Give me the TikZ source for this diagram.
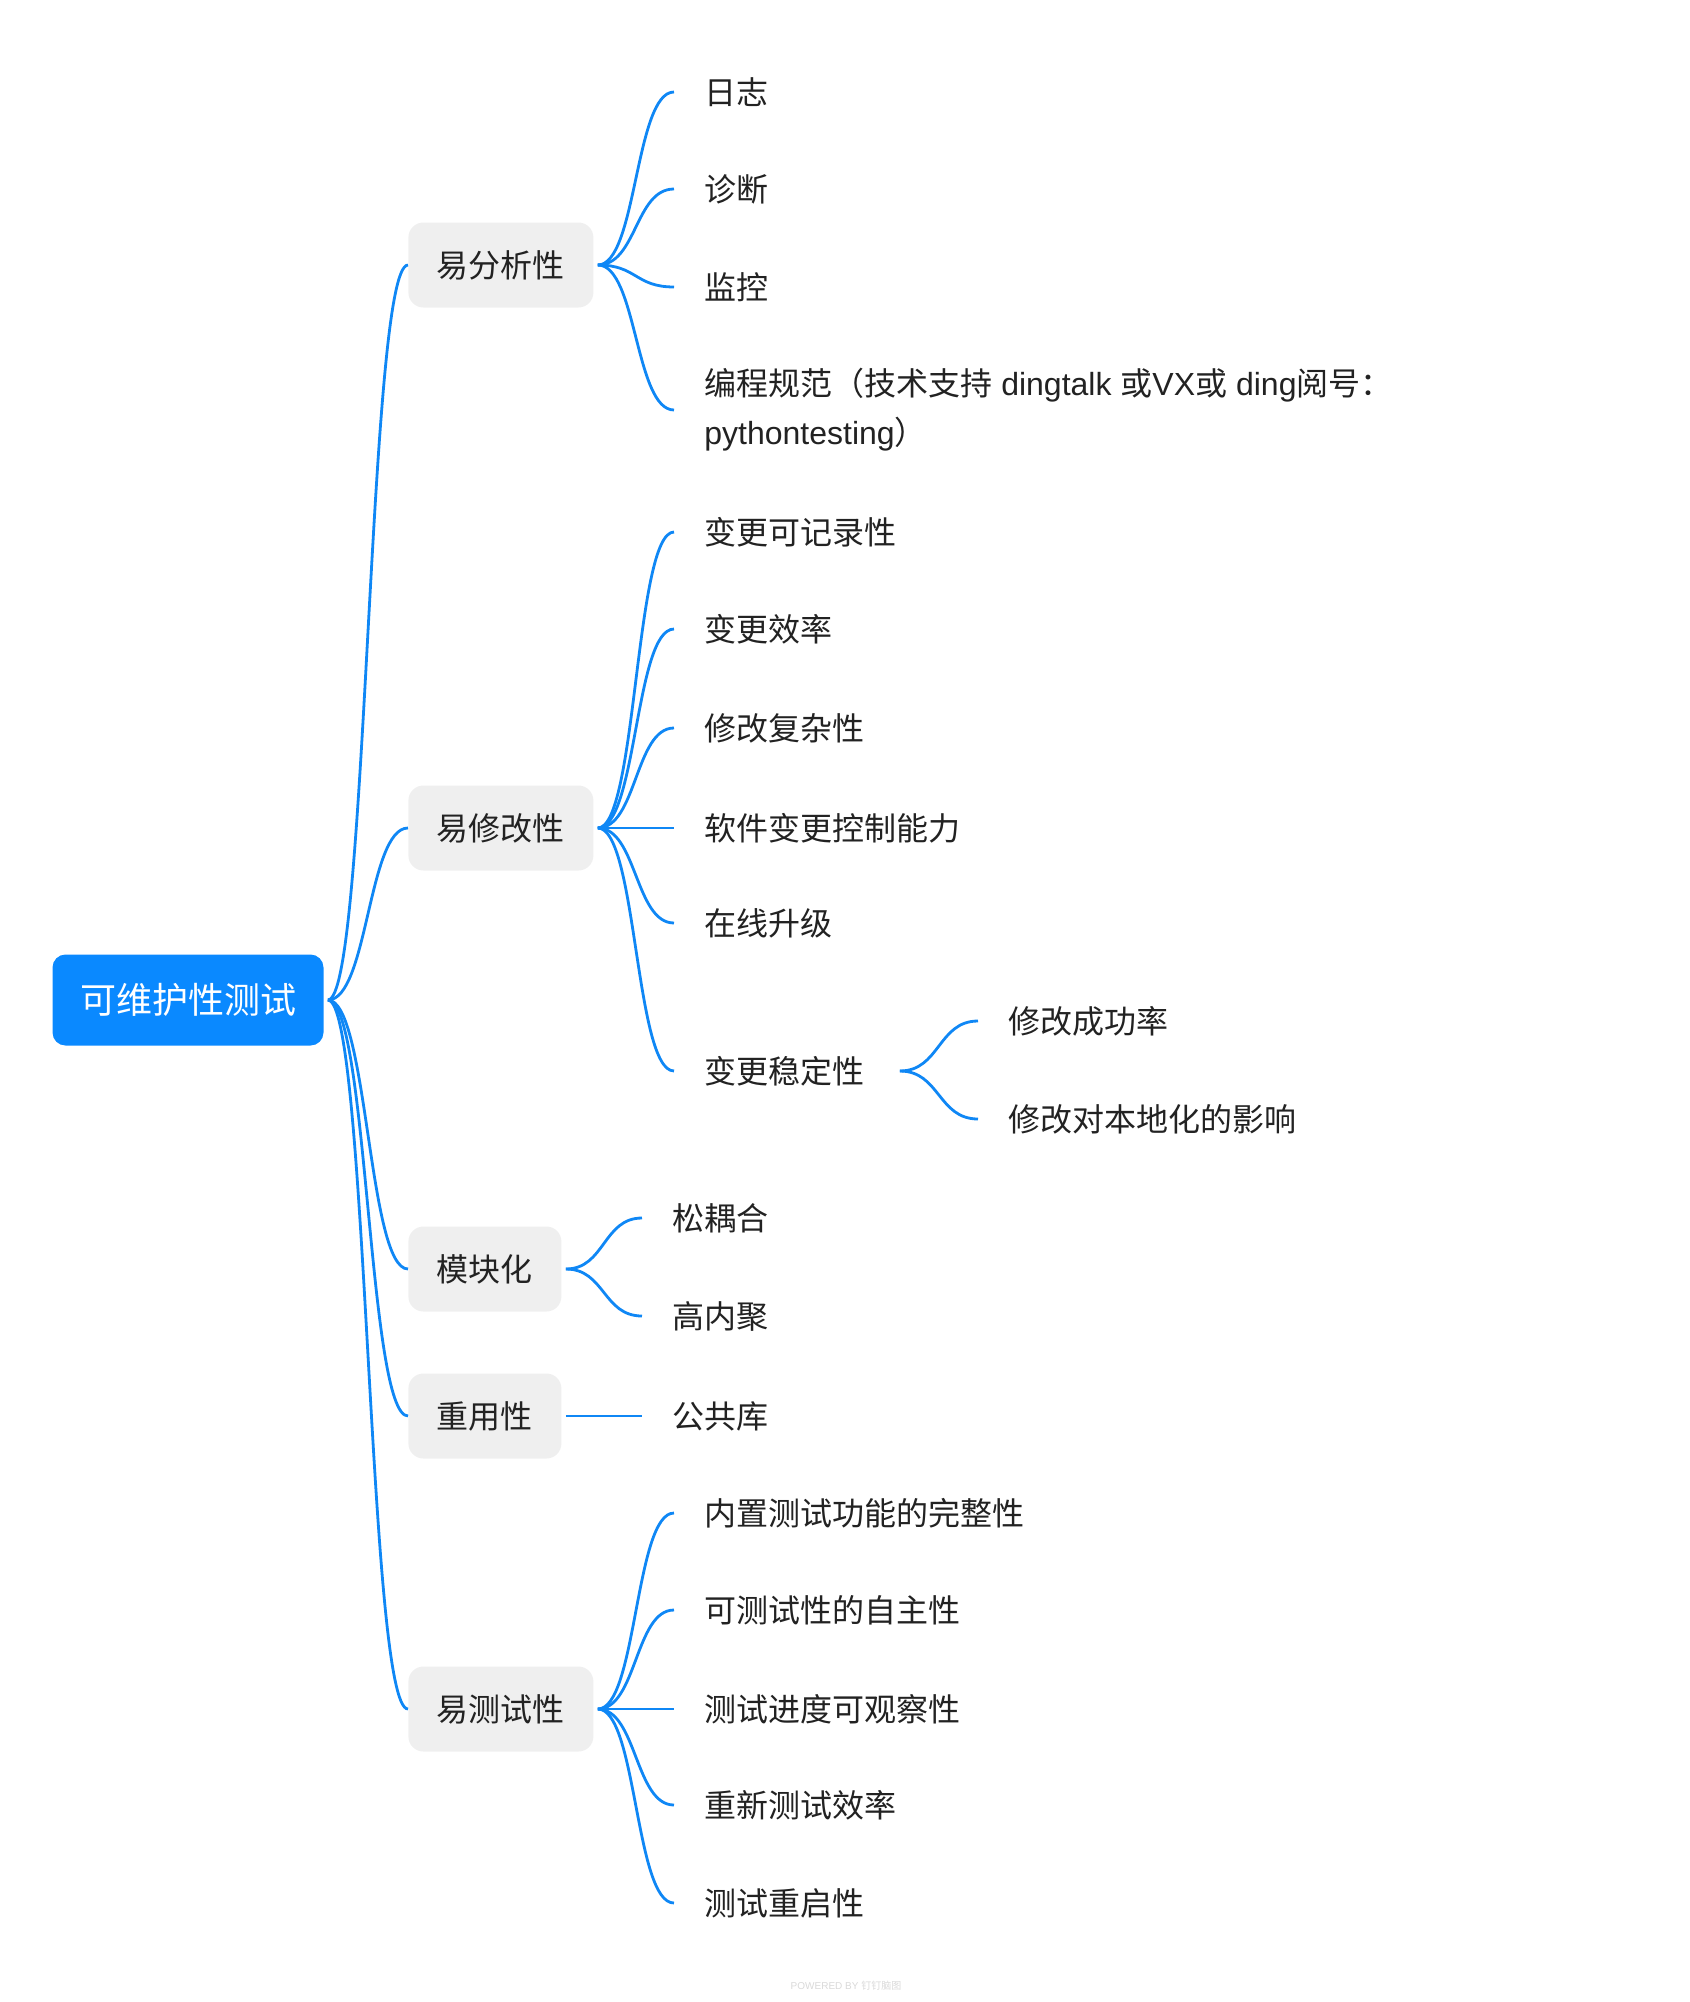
\documentclass[tikz,border=0pt]{standalone}
\usepackage{fontspec}
\setmainfont{Liberation Sans}
\newfontfamily\cjk{Noto Sans CJK SC}
\definecolor{rootblue}{HTML}{0A89FF}
\definecolor{linkblue}{HTML}{0F87F5}
\definecolor{boxgray}{HTML}{EFEFEF}
\definecolor{textgray}{HTML}{222222}

\begin{document}
\begin{tikzpicture}[
    x=0.5pt,
    y=-0.5pt,
    rootbox/.style={fill=rootblue, text=white, rounded corners=6.5pt,
      inner xsep=13.75pt, minimum height=45.5pt, font=\cjk\fontsize{18}{20}\selectfont},
    branchbox/.style={fill=boxgray, text=textgray, rounded corners=7.5pt, anchor=west,
      inner xsep=14.25pt, minimum height=42.5pt, font=\cjk\fontsize{16}{18}\selectfont},
    leaf/.style={text=textgray, anchor=west, inner xsep=15pt, inner ysep=0pt,
      font=\cjk\fontsize{16}{18}\selectfont},
    link/.style={draw=linkblue, line width=1.4pt,
      to path={.. controls +(#1,0) and +(-#1,0) .. (\tikztotarget)}},
    link/.default=39
]
\useasboundingbox (0,0) rectangle (1690,2002);

\node[rootbox] (root) at (188,1000) {可维护性测试};
\coordinate (rootout) at ([xshift=2pt]root.east);

\node[branchbox] (b1) at (408,265) {易分析性};
\node[branchbox] (b2) at (408,828) {易修改性};
\node[branchbox] (b3) at (408,1269) {模块化};
\node[branchbox] (b4) at (408,1416) {重用性};
\node[branchbox] (b5) at (408,1709) {易测试性};

\foreach \b in {b1,b2,b3,b4,b5}{
  \draw[link=40] (rootout) to (\b.west);
  \coordinate (\b out) at ([xshift=2pt]\b.east);
}

\foreach \name/\ypos/\txt in {l11/92/日志, l12/189/诊断, l13/287/监控}{
  \node[leaf] (\name) at (674,\ypos) {\txt};
  \draw[link] (b1out) to (\name.west);
}
\node[leaf, align=left, font=\fontsize{16}{24.5}\selectfont] (l14) at (674,410)
  {{\cjk 编程规范（技术支持} dingtalk {\cjk 或}VX{\cjk 或} ding{\cjk 阅号：}\\pythontesting{\cjk ）}};
\draw[link] (b1out) to (l14.west);

\foreach \name/\ypos/\txt in {
  l21/532/变更可记录性,
  l22/629/变更效率,
  l23/728/修改复杂性,
  l24/828/软件变更控制能力,
  l25/923/在线升级,
  l26/1071/变更稳定性
}{
  \node[leaf] (\name) at (674,\ypos) {\txt};
  \draw[link] (b2out) to (\name.west);
}
\coordinate (l26out) at ([xshift=2.5pt]l26.east);
\foreach \name/\ypos/\txt in {l261/1021/修改成功率, l262/1119/修改对本地化的影响}{
  \node[leaf] (\name) at (978,\ypos) {\txt};
  \draw[link=40] (l26out) to (\name.west);
}

\foreach \name/\ypos/\txt in {l31/1218/松耦合, l32/1316/高内聚}{
  \node[leaf] (\name) at (642,\ypos) {\txt};
  \draw[link] (b3out) to (\name.west);
}
\node[leaf] (l41) at (642,1416) {公共库};
\draw[link] (b4out) to (l41.west);

\foreach \name/\ypos/\txt in {
  l51/1513/内置测试功能的完整性,
  l52/1610/可测试性的自主性,
  l53/1709/测试进度可观察性,
  l54/1805/重新测试效率,
  l55/1903/测试重启性
}{
  \node[leaf] (\name) at (674,\ypos) {\txt};
  \draw[link] (b5out) to (\name.west);
}

\node[text=gray!30, font=\fontsize{5}{6}\selectfont] (footer) at (846,1986)
  {POWERED BY {\cjk 钉钉脑图}};
\end{tikzpicture}
\end{document}
